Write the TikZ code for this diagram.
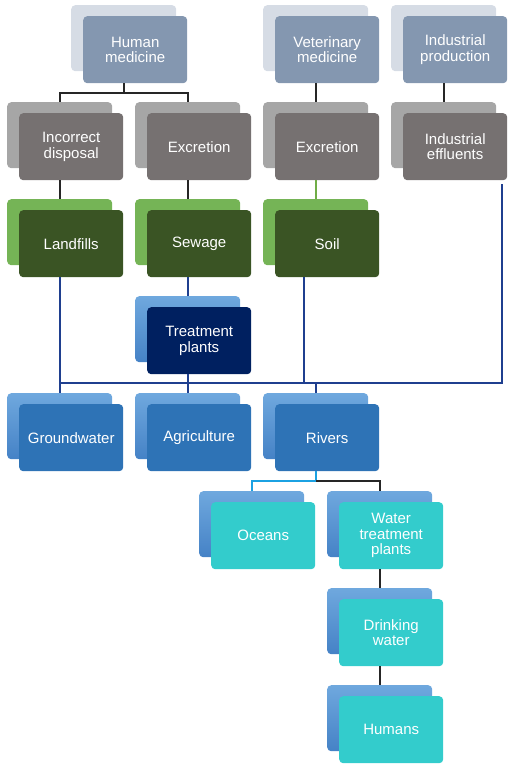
\documentclass[tikz,border=0pt]{standalone}
\usepackage{fontspec}
\setmainfont{Liberation Sans}
\usetikzlibrary{calc}
\definecolor{topBack}{HTML}{D6DCE5}
\definecolor{topFront}{HTML}{8497B0}
\definecolor{grayBack}{HTML}{A6A6A6}
\definecolor{grayFront}{HTML}{767171}
\definecolor{greenBack}{HTML}{75B456}
\definecolor{greenFront}{HTML}{3A5424}
\definecolor{navyFront}{HTML}{002060}
\definecolor{blueBackTop}{HTML}{6FA8DE}
\definecolor{blueBackBot}{HTML}{4582C6}
\definecolor{blueFront}{HTML}{2E73B6}
\definecolor{cyanFront}{HTML}{33CCCC}
\definecolor{lineBlack}{HTML}{262626}
\definecolor{lineGreen}{HTML}{70AD47}
\definecolor{lineBlue}{HTML}{1F3F8F}
\definecolor{lineLight}{HTML}{1BA1E2}
\tikzset{
  frontbox/.style={rounded corners=4pt, minimum width=104pt, minimum height=67pt,
    inner sep=0pt, text=white, align=center, anchor=north west,
    font=\fontsize{15}{15.5}\selectfont},
  backbox/.style={rounded corners=4pt, minimum width=105pt, minimum height=66pt,
    inner sep=0pt, anchor=north west},
  tb/.style={fill=topBack}, tf/.style={fill=topFront},
  gb/.style={fill=grayBack}, gf/.style={fill=grayFront},
  grb/.style={fill=greenBack}, grf/.style={fill=greenFront},
  bb/.style={top color=blueBackTop, bottom color=blueBackBot},
  nf/.style={fill=navyFront}, bf/.style={fill=blueFront}, cf/.style={fill=cyanFront},
  conn/.style={line width=2pt, draw=#1, line join=miter},
}
\newcommand\unitbox[6]{%
  \node[backbox,#4] (#1B) at ({#2-12},{11-#3}) {};
  \node[frontbox,#5] (#1) at ({#2},{-#3}) {#6};
}
\begin{document}
\begin{tikzpicture}[x=1pt,y=1pt]
\useasboundingbox (0,0) rectangle (510,-765);
% row 1
\unitbox{hm}{83}{16}{tb}{tf}{Human\\medicine}
\unitbox{vm}{275}{16}{tb}{tf}{Veterinary\\medicine}
\unitbox{ip}{403}{16}{tb}{tf}{Industrial\\production}
% row 2
\unitbox{id}{19}{113}{gb}{gf}{Incorrect\\disposal}
\unitbox{exa}{147}{113}{gb}{gf}{Excretion}
\unitbox{exb}{275}{113}{gb}{gf}{Excretion}
\unitbox{ie}{403}{113}{gb}{gf}{Industrial\\effluents}
% row 3
\unitbox{lf}{19}{210}{grb}{grf}{Landfills}
\unitbox{sw}{147}{210}{grb}{grf}{Sewage}
\unitbox{so}{275}{210}{grb}{grf}{Soil}
% treatment
\unitbox{tp}{147}{307}{bb}{nf}{Treatment\\plants}
% row 4
\unitbox{gw}{19}{404}{bb}{bf}{Groundwater}
\unitbox{ag}{147}{404}{bb}{bf}{Agriculture}
\unitbox{rv}{275}{404}{bb}{bf}{Rivers}
% row 5
\unitbox{oc}{211}{502}{bb}{cf}{Oceans}
\unitbox{wt}{339}{502}{bb}{cf}{Water\\treatment\\plants}
\unitbox{dw}{339}{599}{bb}{cf}{Drinking\\water}
\unitbox{hu}{339}{696}{bb}{cf}{Humans}
% connectors
\draw[conn=lineBlack] (hmB |- hm.south) -- ++(0,-10) -| (idB.north);
\draw[conn=lineBlack] (hmB |- hm.south) -- ++(0,-10) -| (exaB.north);
\draw[conn=lineBlack] (vmB |- vm.south) -- (exbB.north);
\draw[conn=lineBlack] (ipB |- ip.south) -- (ieB.north);
\draw[conn=lineBlack] (idB |- id.south) -- (lfB.north);
\draw[conn=lineBlack] (exaB |- exa.south) -- (swB.north);
\draw[conn=lineGreen] (exbB |- exb.south) -- (soB.north);
\coordinate (bus) at (0,-383);
\coordinate (soX) at ($(so.south)+(-23,0)$);
\coordinate (ieX) at ($(ie.south)+(47,-4)$);
\draw[conn=lineBlue] (lfB |- lf.south) -- (gwB.north);
\draw[conn=lineBlue] (swB |- sw.south) -- (tpB.north);
\draw[conn=lineBlue] (tpB |- tp.south) -- (agB.north);
\draw[conn=lineBlue] (soX) -- (soX |- bus);
\draw[conn=lineBlue] (lfB |- bus) -- (ieX |- bus) -- (ieX);
\draw[conn=lineBlue] (rvB |- bus) -- (rvB.north);
\draw[conn=lineLight] (rvB |- rv.south) -- ++(0,-10) -| (ocB.north);
\draw[conn=lineBlack] ($(rvB |- rv.south)+(0,-10)$) -| (wtB.north);
\draw[conn=lineBlack] (wtB |- wt.south) -- (dwB.north);
\draw[conn=lineBlack] (dwB |- dw.south) -- (huB.north);
\end{tikzpicture}
\end{document}
